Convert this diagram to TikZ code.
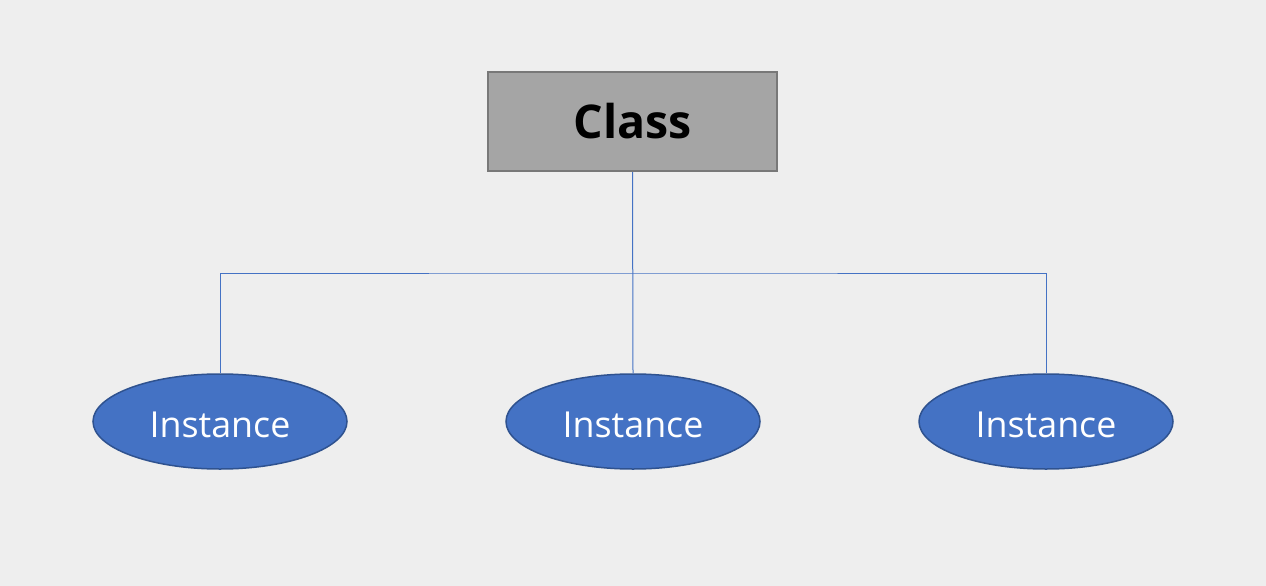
\documentclass[tikz,border=0pt]{standalone}
\usepackage{fontspec}
\setmainfont{Open Sans}
\usetikzlibrary{shapes.geometric}
\definecolor{bg}{HTML}{EEEEEE}
\definecolor{boxfill}{HTML}{A5A5A5}
\definecolor{boxline}{HTML}{787878}
\definecolor{inst}{HTML}{4472C4}
\definecolor{instline}{HTML}{2F528F}
\newcommand{\instlabel}{\raisebox{-3pt}[\height][\depth]{Instance}}
\begin{document}
\begin{tikzpicture}[x=1pt,y=-1pt,
  classbox/.style={draw=boxline,fill=boxfill,line width=2pt,minimum width=289pt,minimum height=99pt,inner sep=0pt,font=\fontsize{46.5}{54}\selectfont\bfseries},
  instnode/.style={ellipse,draw=instline,fill=inst,line width=1.5pt,minimum width=254pt,minimum height=95pt,inner sep=0pt,text=white,font=\fontsize{35.8}{42}\selectfont},
  conn/.style={draw=inst,line width=1pt}]
\fill[bg] (0,0) rectangle (1266,586);
\useasboundingbox (0,0) rectangle (1266,586);
\node[classbox] (cls) at (632.5,121.5) {Class};
\node[instnode] (i1) at (220,421.5) {\instlabel};
\node[instnode] (i2) at (633,421.5) {\instlabel};
\node[instnode] (i3) at (1046,421.5) {\instlabel};
\coordinate (j) at (633,273);
\draw[conn] (cls.south) -- (i2.north);
\draw[conn] (i1.north) |- (j) -| (i3.north);
\end{tikzpicture}
\end{document}
